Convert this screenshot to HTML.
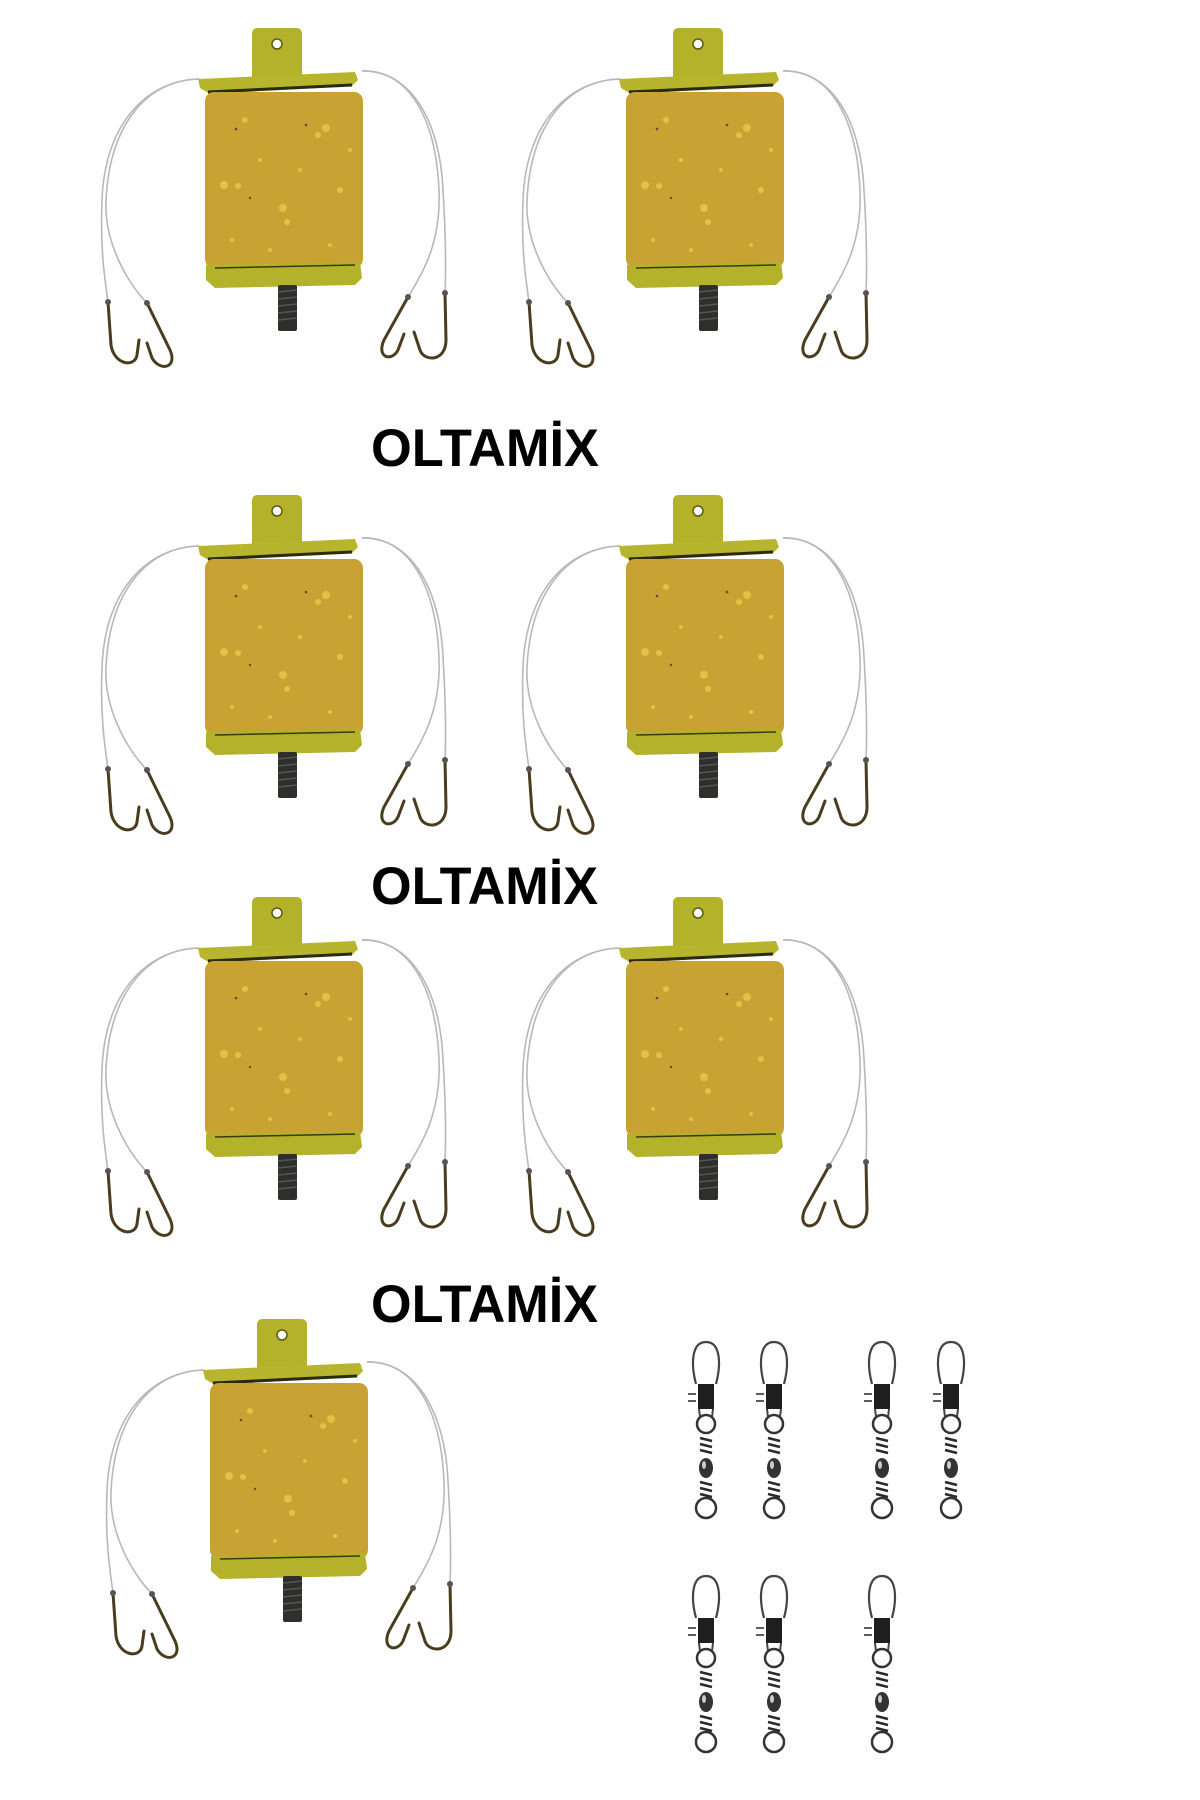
<!DOCTYPE html>
<html><head><meta charset="utf-8"><style>html,body{margin:0;padding:0;background:#fff}svg{display:block}</style></head><body>
<svg width="1200" height="1800" viewBox="0 0 1200 1800" xmlns="http://www.w3.org/2000/svg">
<defs>
<g id="u">
  <g fill="none" stroke="#b8b8b8" stroke-width="1.6">
    <path d="M199,79 C150,80 105,120 102,200 C100,250 105,280 108,302"/>
    <path d="M199,79 C150,80 110,120 106,200 C104,240 125,280 147,303"/>
    <path d="M362,71 C410,70 440,120 443,190 C446,240 446,270 445,293"/>
    <path d="M362,71 C410,70 436,120 439,190 C441,240 425,270 408,297"/>
  </g>
  <g fill="none" stroke="#4a3c1e" stroke-width="3" stroke-linecap="round">
    <path d="M108,302 L111,345 C114,365 135,368 137,355 L139,340"/>
    <path d="M147,303 L170,350 C178,368 160,372 152,358 L147,343"/>
    <path d="M408,297 L384,340 C376,358 392,362 398,350 L404,334"/>
    <path d="M445,293 L446,340 C446,362 424,362 420,350 L414,332"/>
  </g>
  <circle cx="108" cy="302" r="3" fill="#555"/><circle cx="147" cy="303" r="3" fill="#555"/>
  <circle cx="408" cy="297" r="3" fill="#555"/><circle cx="445" cy="293" r="3" fill="#555"/>
  <path d="M252,78 L252,34 Q252,28 258,28 L296,28 Q302,28 302,34 L302,78 Z" fill="#b3b22a"/>
  <circle cx="277" cy="44" r="5" fill="#fff" stroke="#5a5a10" stroke-width="1.5"/>
  <path d="M198,79 L355,72 L358,80 L352,86 L210,94 L200,88 Z" fill="#b7b52e"/>
  <path d="M208,92 L352,85" stroke="#2a2a10" stroke-width="3"/>
  <rect x="205" y="92" width="158" height="176" rx="9" fill="#c9a234"/>
  <g fill="#e6c848" opacity="0.85">
    <circle cx="245" cy="120" r="3"/><circle cx="326" cy="128" r="4"/><circle cx="318" cy="135" r="3"/>
    <circle cx="224" cy="185" r="4"/><circle cx="238" cy="186" r="3"/><circle cx="283" cy="208" r="4"/>
    <circle cx="287" cy="222" r="3"/><circle cx="340" cy="190" r="3"/><circle cx="260" cy="160" r="2"/>
    <circle cx="300" cy="170" r="2"/><circle cx="232" cy="240" r="2"/><circle cx="350" cy="150" r="2"/>
    <circle cx="270" cy="250" r="2"/><circle cx="330" cy="245" r="2"/>
  </g>
  <g fill="#6a4a30"><circle cx="236" cy="129" r="1.3"/><circle cx="306" cy="125" r="1.3"/><circle cx="250" cy="198" r="1.2"/></g>
  <path d="M206,265 L360,262 L362,278 L355,285 L215,288 L206,280 Z" fill="#b3b22a"/>
  <path d="M215,268 L355,265" stroke="#3a3a10" stroke-width="1.5"/>
  <rect x="278" y="285" width="19" height="46" rx="2" fill="#2e2e2a"/>
  <g stroke="#555" stroke-width="1.5"><line x1="278" y1="292" x2="297" y2="290"/><line x1="278" y1="299" x2="297" y2="297"/><line x1="278" y1="306" x2="297" y2="304"/><line x1="278" y1="313" x2="297" y2="311"/><line x1="278" y1="320" x2="297" y2="318"/></g>
</g>
<g id="s">
  <path d="M-10,49 C-15,30 -15,7 0,7 C15,7 15,30 10,49" fill="none" stroke="#444" stroke-width="2.2"/>
  <rect x="-8" y="49" width="16" height="25" fill="#1e1e1e"/>
  <g stroke="#333" stroke-width="1.6"><line x1="-18" y1="59" x2="-10" y2="59"/><line x1="-18" y1="66" x2="-10" y2="66"/></g>
  <path d="M-7,74 L-6,82 M7,74 L6,82" stroke="#444" stroke-width="2"/>
  <circle cx="0" cy="89" r="9" fill="none" stroke="#333" stroke-width="2.5"/>
  <g stroke="#2a2a2a" stroke-width="2.5"><line x1="-6" y1="103" x2="6" y2="106"/><line x1="-6" y1="109" x2="6" y2="112"/><line x1="-6" y1="115" x2="6" y2="118"/></g>
  <ellipse cx="0" cy="133" rx="7" ry="10" fill="#333"/><ellipse cx="-2" cy="130" rx="2" ry="4" fill="#ccc"/>
  <g stroke="#2a2a2a" stroke-width="2.5"><line x1="-6" y1="147" x2="6" y2="150"/><line x1="-6" y1="153" x2="6" y2="156"/><line x1="-6" y1="159" x2="6" y2="162"/></g>
  <circle cx="0" cy="173" r="10" fill="none" stroke="#333" stroke-width="2.5"/>
</g>
<clipPath id="c4"><rect x="0" y="1319" width="1200" height="481"/></clipPath>
</defs>
<use href="#u"/>
<use href="#u" transform="translate(421,0)"/>
<use href="#u" transform="translate(0,467)"/>
<use href="#u" transform="translate(421,467)"/>
<use href="#u" transform="translate(0,869)"/>
<use href="#u" transform="translate(421,869)"/>
<g clip-path="url(#c4)">
<use href="#u" transform="translate(5,1291)"/>
</g>
<g font-family="Liberation Sans, sans-serif" font-weight="bold" font-size="53" fill="#000">
<text x="371" y="466" textLength="228" lengthAdjust="spacingAndGlyphs">OLTAMİX</text>
<text x="371" y="904" textLength="227" lengthAdjust="spacingAndGlyphs">OLTAMİX</text>
<text x="371" y="1322" textLength="227" lengthAdjust="spacingAndGlyphs">OLTAMİX</text>
</g>
<use href="#s" transform="translate(706,1335)"/>
<use href="#s" transform="translate(774,1335)"/>
<use href="#s" transform="translate(882,1335)"/>
<use href="#s" transform="translate(951,1335)"/>
<use href="#s" transform="translate(706,1569)"/>
<use href="#s" transform="translate(774,1569)"/>
<use href="#s" transform="translate(882,1569)"/>
</svg>
</body></html>
